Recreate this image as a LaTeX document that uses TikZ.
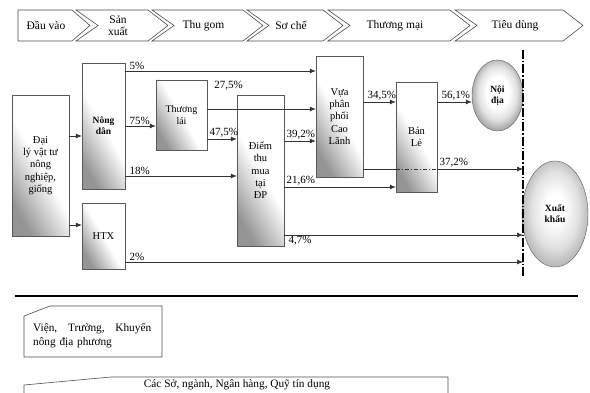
\documentclass[tikz,border=0pt]{standalone}
\usepackage{fontspec}
\setmainfont{Liberation Serif}
\usetikzlibrary{arrows.meta,positioning,calc,shapes.geometric}
\pgfdeclareradialshading{innerlight}{\pgfpoint{0bp}{3bp}}{color(0bp)=(white); color(11bp)=(white); color(19bp)=(black!12); color(25bp)=(black!32); color(50bp)=(black!32)}
\pgfdeclareradialshading{innerpale}{\pgfpoint{0bp}{3bp}}{color(0bp)=(white); color(7bp)=(white); color(18bp)=(black!12); color(25bp)=(black!26); color(50bp)=(black!26)}

\begin{document}
\begin{tikzpicture}[x=1pt,y=-1pt,
  stage/.style={draw=black!70, line width=0.6pt, fill=white},
  stagetext/.style={font=\fontsize{11.5}{12.5}\selectfont, align=center, inner sep=1pt},
  actor/.style={draw=black!65, top color=white, bottom color=black!42, middle color=white,
    shading angle=-60, font=\fontsize{10.5}{12.3}\selectfont, align=center, inner sep=1pt},
  market/.style={ellipse, draw=black!65, shade, shading=innerlight,
    font=\fontsize{9.5}{11}\selectfont\bfseries, align=center, inner sep=0pt},
  link/.style={draw=black!80, line width=0.7pt},
  flow/.style={link, -{Latex[length=6pt,width=5pt]}},
  pct/.style={font=\fontsize{11}{12}\selectfont, inner sep=1pt, anchor=south west, xshift=3pt},
  cutline/.style={line width=1.3pt, dash pattern=on 9pt off 2pt on 1.5pt off 2pt},
  note/.style={draw=black!70, line width=0.6pt},
  notetext/.style={font=\fontsize{11.3}{14}\selectfont, inner sep=0pt}]
  \useasboundingbox (0,0) rectangle (590,393);

  % Value chain stages
  \draw[stage] (18,10) -- (72,10) -- (90,25.5) -- (72,41) -- (18,41) -- cycle;
  \node[stagetext] (s1) at (46,25.5) {Đầu vào};
  \foreach \xl/\xr/\name/\lbl in {76/148/s2/{Sản\\xuất}, 152/243/s3/Thu gom,
      247/323/s4/Sơ chế, 328/450/s5/Thương mại, 455/563/s6/Tiêu dùng} {
    \draw[stage] (\xl,10) -- (\xr,10) -- (\xr+20,25.5) -- (\xr,41) -- (\xl,41)
      -- (\xl+22,25.5) -- cycle;
    \node[stagetext] (\name) at ({(\xl+\xr)/2+6},25.5) {\lbl};
  }

  % Actors
  \node[actor, minimum width=57pt, minimum height=141pt] (dealer) at (40.5,165.5)
    {Đại\\lý vật tư\\nông\\nghiệp,\\giống};
  \node[actor, minimum width=43pt, minimum height=126pt,
    font=\fontsize{9.5}{11}\selectfont\bfseries] (nongdan) at (103.5,126) {Nông\\dân};
  \node[actor, minimum width=43pt, minimum height=66pt] (htx) at (103.5,236) {HTX};
  \node[actor, minimum width=51pt, minimum height=70pt,
    font=\fontsize{10}{11.5}\selectfont] (thuonglai) at (181.5,115) {Thương\\lái};
  \node[actor, minimum width=47pt, minimum height=151pt] (diem) at (260.5,170.5)
    {Điểm\\thu\\mua\\tại\\ĐP};
  \node[actor, minimum width=47pt, minimum height=121pt] (vua) at (339.5,116.5)
    {Vựa\\phân\\phối\\Cao\\Lãnh};
  \node[actor, minimum width=41pt, minimum height=110pt] (banle) at (416.5,137) {Bán\\Lẻ};

  % Markets
  \node[market, minimum width=51pt, minimum height=71pt] (noidia) at (497.5,95.5) {Nội\\địa};
  \node[market, minimum width=66pt, minimum height=106pt, shading=innerpale]
    (xuatkhau) at (555,214) {Xuất\\khẩu};

  % Border
  \coordinate (cutT) at (523,50);
  \coordinate (cutB) at (523,276);
  \draw[cutline] (cutT) -- (cutB);

  % Flows
  \draw[flow] (dealer.east |- 0,136) -- (nongdan.west |- 0,136);
  \draw[flow] (dealer.east |- 0,225) -- (htx.west |- 0,225);
  \draw[flow] (nongdan.east |- 0,71) -- node[pct, pos=0] {5\%} (vua.west |- 0,71);
  \draw[flow] (nongdan.east |- 0,126) -- node[pct, pos=0] {75\%} (thuonglai.west |- 0,126);
  \draw[flow] (nongdan.east |- 0,176) -- node[pct, pos=0] {18\%} (diem.west |- 0,176);
  \draw[flow] (htx.east |- 0,262) -- node[pct, pos=0] {2\%} (cutT |- 0,262);
  \draw[flow] (thuonglai.east |- 0,109) -- (vua.west |- 0,109);
  \node[pct, anchor=west] (l275) at ([xshift=3pt,yshift=-6pt]thuonglai.north east) {27,5\%};
  \draw[flow] (thuonglai.east |- 0,139) -- node[pct, pos=0, xshift=-2pt] {47,5\%} (diem.west |- 0,139);
  \draw[flow] (diem.east |- 0,141) -- node[pct, pos=0, xshift=-2pt] {39,2\%} (vua.west |- 0,141);
  \draw[flow] (diem.east |- 0,187) -- node[pct, pos=0, xshift=-2pt] {21,6\%} (banle.west |- 0,187);
  \draw[flow] (diem.east |- 0,235) -- node[pct, pos=0, anchor=north west] {4,7\%} (cutT |- 0,235);
  \draw[flow] (vua.east |- 0,102) -- node[pct, pos=0] {34,5\%} (banle.west |- 0,102);
  \draw[link] (vua.east |- 0,169) -- (banle.west |- 0,169);
  \draw[link, dash pattern=on 4pt off 2pt on 1pt off 2pt] (banle.west |- 0,169) -- (banle.east |- 0,169);
  \draw[flow] (banle.east |- 0,169) -- node[pct, pos=0, xshift=-2pt] {37,2\%} (cutT |- 0,169);
  \draw[flow] (banle.east |- 0,102) -- node[pct, pos=0] {56,1\%} (noidia.west |- 0,102);

  % Support actors
  \draw[line width=1.3pt] (15,296) -- (578,296);
  \draw[note] (24,316) -- (50,306) -- (162,306) -- (162,357) -- (24,357) -- cycle;
  \node[notetext, anchor=west, text width=118pt, align=left] (vien) at (33,335.5)
    {Viện,\hfill Trường,\hfill Khuyến\\nông địa phương};
  \draw[note] (24,393) -- (24,385) -- (111,377) -- (448,377) -- (448,393);
  \node[notetext] (cacso) at (237,385) {Các Sở, ngành, Ngân hàng, Quỹ tín dụng};
\end{tikzpicture}
\end{document}
